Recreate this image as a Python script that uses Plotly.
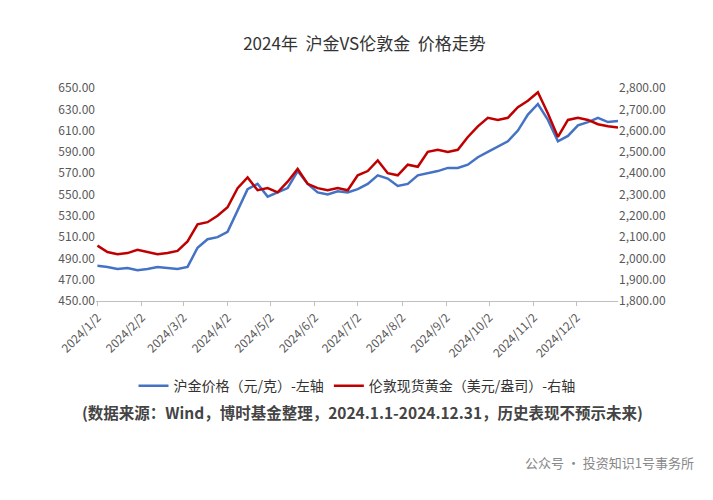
import pandas as pd
import plotly.graph_objects as go

dates = pd.date_range("2024-01-02", periods=53, freq="7D")

shfe = [483, 482, 480, 481, 479,
        480, 482, 481, 480,
        482, 500, 508, 510,
        515, 535, 555, 560, 548,
        552, 556, 572, 560,
        552, 550, 553, 552,
        555, 560, 568, 565, 558,
        560, 568, 570, 572, 575,
        575, 578, 585, 590,
        595, 600, 610, 625, 635,
        620, 600, 605, 615,
        618, 622, 618, 619]

lbma = [2060, 2030, 2020, 2025, 2040,
        2030, 2020, 2025, 2035,
        2080, 2160, 2170, 2200,
        2240, 2330, 2380, 2320, 2330,
        2310, 2360, 2420, 2350,
        2330, 2320, 2330, 2320,
        2390, 2410, 2460, 2400, 2390,
        2440, 2430, 2500, 2510, 2500,
        2510, 2570, 2620, 2660,
        2650, 2660, 2710, 2740, 2780,
        2680, 2570, 2650, 2660,
        2650, 2630, 2620, 2615]

left_ticks = list(range(450, 651, 20))
right_ticks = list(range(1800, 2801, 100))
tick_dates = [f"2024-{m:02d}-02" for m in range(1, 13)]
tick_text = [f"2024/{m}/2" for m in range(1, 13)]

font = "Noto Sans CJK SC"

fig = go.Figure()
fig.add_trace(go.Scatter(x=dates, y=shfe, name="沪金价格（元/克）-左轴",
                         mode="lines", line=dict(color="#4472C4", width=2.5)))
fig.add_trace(go.Scatter(x=dates, y=lbma, name="伦敦现货黄金（美元/盎司）-右轴",
                         mode="lines", yaxis="y2",
                         line=dict(color="#C00000", width=2.5)))

fig.update_layout(
    width=713, height=500,
    paper_bgcolor="white", plot_bgcolor="white",
    font=dict(family=font, size=12, color="#595959"),
    title=dict(text="2024年  沪金VS伦敦金  价格走势", x=0.5, y=0.94,
               font=dict(size=17, color="#333333")),
    margin=dict(l=88, r=103, t=80, b=207),
    xaxis=dict(range=["2024-01-01", "2024-12-31"], tickvals=tick_dates,
               ticktext=tick_text, tickangle=-45, showgrid=False,
               showline=True, linecolor="#bfbfbf", ticks="outside",
               tickcolor="#bfbfbf", ticklen=4),
    yaxis=dict(range=[450, 650], tickvals=left_ticks,
               ticktext=[f"{v:.2f}" for v in left_ticks],
               showgrid=False, zeroline=False),
    yaxis2=dict(range=[1800, 2800], tickvals=right_ticks,
                ticktext=[f"{v:,.2f}" for v in right_ticks],
                overlaying="y", side="right", showgrid=False, zeroline=False),
    legend=dict(orientation="h", x=0.5, xanchor="center", y=-0.4,
                yanchor="middle", font=dict(size=14, color="#333333")),
    showlegend=True,
)

fig.add_annotation(text="<b>(数据来源：Wind，博时基金整理，2024.1.1-2024.12.31，历史表现不预示未来)</b>",
                   xref="paper", yref="paper", x=0.51, y=-0.58, xanchor="center",
                   showarrow=False, font=dict(size=15.5, color="#444444"))
fig.add_annotation(text="公众号 · 投资知识1号事务所", xref="paper", yref="paper",
                   x=1.15, y=-0.81, xanchor="right", showarrow=False,
                   font=dict(size=13, color="#888888"))

fig.write_html("out.html")
